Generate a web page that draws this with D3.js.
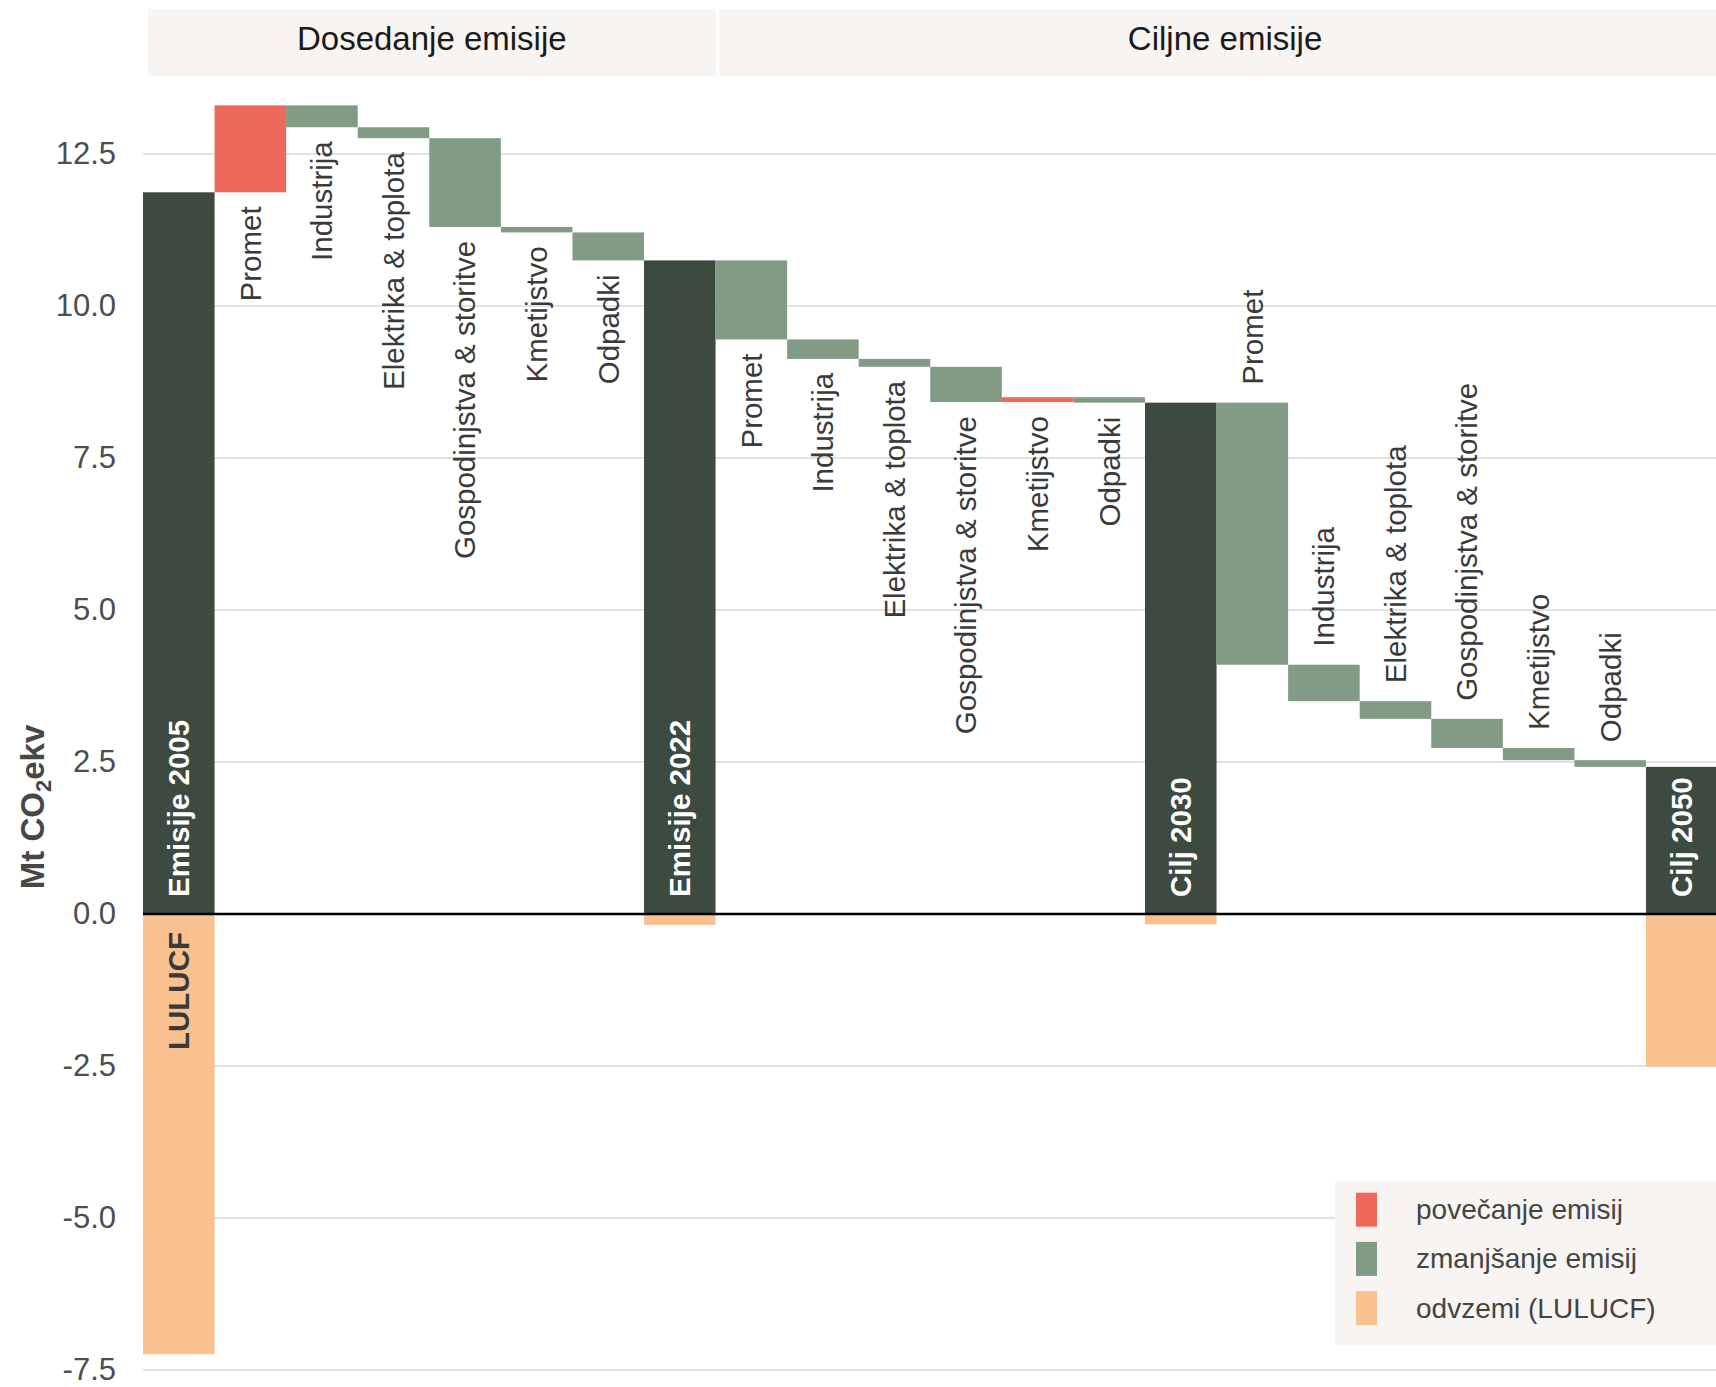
<!DOCTYPE html>
<html>
<head>
<meta charset="utf-8">
<script src="https://cdn.jsdelivr.net/npm/d3@7"></script>
<style>
  html, body { margin: 0; padding: 0; background: #ffffff; }
  svg { display: block; font-family: "Liberation Sans", Arial, "DejaVu Sans", sans-serif; }
</style>
</head>
<body>
<svg id="chart" width="1716" height="1387"></svg>
<script>
// ---------------- data ----------------
const panels = ["Dosedanje emisije", "Ciljne emisije"];
const totalLabels = ["Emisije 2005", "Emisije 2022", "Cilj 2030", "Cilj 2050"];
const totals = [11.87, 10.75, 8.41, 2.42];
const lulucf = [-7.24, -0.18, -0.17, -2.51];
const sectors = ["Promet", "Industrija", "Elektrika & toplota", "Gospodinjstva & storitve", "Kmetijstvo", "Odpadki"];
const change2005to2022 = [1.43, -0.36, -0.18, -1.46, -0.09, -0.46];
const change2022to2030 = [-1.30, -0.32, -0.13, -0.58, 0.08, -0.09];
const change2030to2050 = [-4.31, -0.60, -0.29, -0.48, -0.20, -0.11];
const yTicks = [-7.5, -5.0, -2.5, 0.0, 2.5, 5.0, 7.5, 10.0, 12.5];
const legendLabels = ["povečanje emisij", "zmanjšanje emisij", "odvzemi (LULUCF)"];
const yTitle = "Mt CO";

// ---------------- build rows ----------------
const changes = [change2005to2022, change2022to2030, change2030to2050];
const rows = [];
totals.forEach((t, p) => {
  rows.push({type: "total", label: totalLabels[p], start: 0, end: t, lulucf: lulucf[p], period: p});
  if (p < changes.length) {
    let run = t;
    changes[p].forEach((c, i) => {
      rows.push({type: c >= 0 ? "up" : "down", label: sectors[i], start: run, end: run + c, delta: c, period: p});
      run += c;
    });
  }
});
rows.forEach((r, i) => r.id = i);

// ---------------- styles ----------------
const W = 1716, H = 1387;
const COL = {total: "#3c4a3f", up: "#ee695b", down: "#819b84", lulucf: "#f9c18f", strip: "#f8f4f1", grid: "#e2e2e2"};

const svg = d3.select("#chart");
svg.append("rect").attr("width", W).attr("height", H).attr("fill", "#fff");

const x = d3.scaleBand().domain(rows.map(r => r.id)).range([143, 143 + 71.57 * rows.length]).padding(0);
const y = d3.scaleLinear().domain([-7.5, 12.5]).range([1370, 154]);
const bw = x.bandwidth();

// strips (facet headers)
const secondStart = rows.find(r => r.type === "total" && r.period === 1).id + 1;
const strips = [
  {label: panels[0], x0: x(0) + 5, x1: x(secondStart)},
  {label: panels[1], x0: x(secondStart) + 4, x1: x(rows.length - 1) + bw + 13}
];
const sg = svg.append("g");
sg.selectAll("rect").data(strips).join("rect")
  .attr("x", d => d.x0).attr("y", 9).attr("width", d => d.x1 - d.x0).attr("height", 67)
  .attr("fill", COL.strip);
sg.selectAll("text").data(strips).join("text")
  .attr("x", d => (d.x0 + d.x1) / 2).attr("y", 50)
  .attr("text-anchor", "middle").attr("font-size", 33).attr("fill", "#1a1a1a")
  .text(d => d.label);

// gridlines
svg.append("g").selectAll("line").data(yTicks.filter(v => v !== 0)).join("line")
  .attr("x1", 143).attr("x2", W).attr("y1", d => y(d)).attr("y2", d => y(d))
  .attr("stroke", COL.grid).attr("stroke-width", 2);

// y axis labels
const yAxis = d3.axisLeft(y).tickValues(yTicks).tickSize(0).tickPadding(0).tickFormat(d => d.toFixed(1));
const ag = svg.append("g").attr("transform", "translate(116,0)").call(yAxis);
ag.select(".domain").remove();
ag.selectAll("text").attr("font-size", 31).attr("fill", "#4d4d4d")
  .attr("font-family", "'Liberation Sans', Arial, sans-serif");

// axis title
const tt = svg.append("text").attr("transform", "translate(44,807) rotate(-90)")
  .attr("text-anchor", "middle").attr("font-size", 33).attr("font-weight", "bold").attr("fill", "#474747");
tt.append("tspan").text(yTitle);
tt.append("tspan").attr("font-size", 22).attr("dy", 7).text("2");
tt.append("tspan").attr("dy", -7).text("ekv");

// bars
const bars = svg.append("g");
bars.selectAll("rect.main").data(rows).join("rect").attr("class", "main")
  .attr("x", d => x(d.id)).attr("width", bw)
  .attr("y", d => y(Math.max(d.start, d.end)))
  .attr("height", d => Math.abs(y(d.start) - y(d.end)))
  .attr("fill", d => COL[d.type]);
bars.selectAll("rect.lulucf").data(rows.filter(r => r.type === "total")).join("rect").attr("class", "lulucf")
  .attr("x", d => x(d.id)).attr("width", bw)
  .attr("y", y(0)).attr("height", d => y(d.lulucf) - y(0))
  .attr("fill", COL.lulucf);

// zero line
svg.append("line").attr("x1", 143).attr("x2", W).attr("y1", y(0)).attr("y2", y(0))
  .attr("stroke", "#000").attr("stroke-width", 2.5);

// labels
const lg = svg.append("g").attr("font-size", 29.5);
rows.forEach(r => {
  const cx = x(r.id) + bw / 2;
  if (r.type === "total") {
    lg.append("text").attr("transform", `translate(${cx},${y(0) - 17}) rotate(-90)`)
      .attr("dy", "0.35em").attr("text-anchor", "start").attr("font-weight", "bold")
      .attr("fill", "#ffffff").text(r.label);
  } else {
    const above = r.period === 2; // target period: labels sit above the bars
    if (above) {
      lg.append("text").attr("transform", `translate(${cx},${y(Math.max(r.start, r.end)) - 18}) rotate(-90)`)
        .attr("dy", "0.35em").attr("text-anchor", "start").attr("fill", "#3a3a3a").text(r.label);
    } else {
      lg.append("text").attr("transform", `translate(${cx},${y(Math.min(r.start, r.end)) + 14}) rotate(-90)`)
        .attr("dy", "0.35em").attr("text-anchor", "end").attr("fill", "#3a3a3a").text(r.label);
    }
  }
});
// LULUCF label on the first total
const r0 = rows[0];
lg.append("text").attr("transform", `translate(${x(r0.id) + bw / 2},${y(0) + 18}) rotate(-90)`)
  .attr("dy", "0.35em").attr("text-anchor", "end").attr("font-weight", "bold")
  .attr("fill", "#3a3a3a").text("LULUCF");

// legend
const leg = svg.append("g");
leg.append("rect").attr("x", 1335).attr("y", 1181).attr("width", W - 1335).attr("height", 164).attr("fill", COL.strip);
const legCols = [COL.up, COL.down, COL.lulucf];
legendLabels.forEach((t, i) => {
  const cy = 1209.7 + i * 49.2;
  leg.append("rect").attr("x", 1356).attr("y", cy - 17).attr("width", 21).attr("height", 34).attr("fill", legCols[i]);
  leg.append("text").attr("x", 1416).attr("y", cy).attr("dominant-baseline", "central")
    .attr("font-size", 28).attr("fill", "#444").text(t);
});
</script>
</body>
</html>
